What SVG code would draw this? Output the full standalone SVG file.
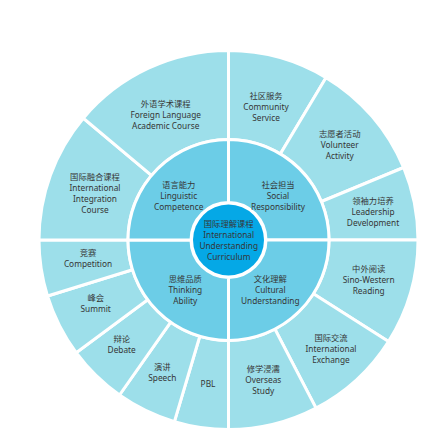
<svg xmlns="http://www.w3.org/2000/svg" width="447" height="435" viewBox="0 0 447 435">
<style>
.o{fill:#9ddfea;stroke:#fff;stroke-width:3;stroke-linejoin:miter}
.m{fill:#6ccde7;stroke:#fff;stroke-width:3}
.c{fill:#05a8e6}
text{font-family:"Noto Sans","Noto Sans CJK SC",sans-serif;font-size:8.3px;fill:#363636;text-anchor:middle}
</style>
<rect width="447" height="435" fill="#fff"/>
<g id="outer-ring">
<g id="community"><path class="o" d="M228.5,50.5 A189.5,189.5 0 0 1 326.1,77.6 L280.3,153.9 A100.5,100.5 0 0 0 228.5,139.5 Z"/><text x="266" y="99.3">社区服务<tspan x="266" dy="11">Community</tspan><tspan x="266" dy="11">Service</tspan></text></g>
<g id="volunteer"><path class="o" d="M326.1,77.6 A189.5,189.5 0 0 1 403.6,167.5 L321.4,201.5 A100.5,100.5 0 0 0 280.3,153.9 Z"/><text x="339.7" y="136.7">志愿者活动<tspan x="339.7" dy="11">Volunteer</tspan><tspan x="339.7" dy="11">Activity</tspan></text></g>
<g id="leadership"><path class="o" d="M403.6,167.5 A189.5,189.5 0 0 1 418,240 L329,240 A100.5,100.5 0 0 0 321.4,201.5 Z"/><text x="373" y="204.3">领袖力培养<tspan x="373" dy="11">Leadership</tspan><tspan x="373" dy="11">Development</tspan></text></g>
<g id="sino-western"><path class="o" d="M418,240 A189.5,189.5 0 0 1 388.5,341.5 L313.4,293.8 A100.5,100.5 0 0 0 329,240 Z"/><text x="368.7" y="271.7">中外阅读<tspan x="368.7" dy="11">Sino-Western</tspan><tspan x="368.7" dy="11">Reading</tspan></text></g>
<g id="exchange"><path class="o" d="M388.5,341.5 A189.5,189.5 0 0 1 316,408.1 L274.9,329.1 A100.5,100.5 0 0 0 313.4,293.8 Z"/><text x="331" y="341">国际交流<tspan x="331" dy="11">International</tspan><tspan x="331" dy="11">Exchange</tspan></text></g>
<g id="overseas"><path class="o" d="M316,408.1 A189.5,189.5 0 0 1 228.5,429.5 L228.5,340.5 A100.5,100.5 0 0 0 274.9,329.1 Z"/><text x="263.3" y="372.3">修学浸濡<tspan x="263.3" dy="11">Overseas</tspan><tspan x="263.3" dy="11">Study</tspan></text></g>
<g id="pbl"><path class="o" d="M228.5,429.5 A189.5,189.5 0 0 1 174.4,421.6 L199.8,336.3 A100.5,100.5 0 0 0 228.5,340.5 Z"/><text x="208" y="387">PBL</text></g>
<g id="speech"><path class="o" d="M174.4,421.6 A189.5,189.5 0 0 1 119.5,395 L170.7,322.2 A100.5,100.5 0 0 0 199.8,336.3 Z"/><text x="162.3" y="369.7">演讲<tspan x="162.3" dy="11">Speech</tspan></text></g>
<g id="debate"><path class="o" d="M119.5,395 A189.5,189.5 0 0 1 76.2,352.7 L147.7,299.8 A100.5,100.5 0 0 0 170.7,322.2 Z"/><text x="121.7" y="342.3">辩论<tspan x="121.7" dy="11">Debate</tspan></text></g>
<g id="summit"><path class="o" d="M76.2,352.7 A189.5,189.5 0 0 1 47.5,296 L132.5,269.7 A100.5,100.5 0 0 0 147.7,299.8 Z"/><text x="95.7" y="300.7">峰会<tspan x="95.7" dy="11">Summit</tspan></text></g>
<g id="competition"><path class="o" d="M47.5,296 A189.5,189.5 0 0 1 39,240 L128,240 A100.5,100.5 0 0 0 132.5,269.7 Z"/><text x="88" y="256.3">竞赛<tspan x="88" dy="11">Competition</tspan></text></g>
<g id="integration"><path class="o" d="M39,240 A189.5,189.5 0 0 1 83.3,118.2 L151.5,175.4 A100.5,100.5 0 0 0 128,240 Z"/><text x="95" y="179.7">国际融合课程<tspan x="95" dy="11">International</tspan><tspan x="95" dy="11">Integration</tspan><tspan x="95" dy="11">Course</tspan></text></g>
<g id="foreign-language"><path class="o" d="M83.3,118.2 A189.5,189.5 0 0 1 228.5,50.5 L228.5,139.5 A100.5,100.5 0 0 0 151.5,175.4 Z"/><text x="165.7" y="106.7">外语学术课程<tspan x="165.7" dy="11">Foreign Language</tspan><tspan x="165.7" dy="11">Academic Course</tspan></text></g>
</g>
<g id="middle-ring">
<g id="social"><path class="m" d="M228.5,139.5 A100.5,100.5 0 0 1 329,240 L266,240 A37.5,37.5 0 0 0 228.5,202.5 Z"/><text x="278" y="187.7">社会担当<tspan x="278" dy="11">Social</tspan><tspan x="278" dy="11">Responsibility</tspan></text></g>
<g id="cultural"><path class="m" d="M329,240 A100.5,100.5 0 0 1 228.5,340.5 L228.5,277.5 A37.5,37.5 0 0 0 266,240 Z"/><text x="270.3" y="281.7">文化理解<tspan x="270.3" dy="11">Cultural</tspan><tspan x="270.3" dy="11">Understanding</tspan></text></g>
<g id="thinking"><path class="m" d="M228.5,340.5 A100.5,100.5 0 0 1 128,240 L191,240 A37.5,37.5 0 0 0 228.5,277.5 Z"/><text x="185.3" y="281.7">思维品质<tspan x="185.3" dy="11">Thinking</tspan><tspan x="185.3" dy="11">Ability</tspan></text></g>
<g id="linguistic"><path class="m" d="M128,240 A100.5,100.5 0 0 1 228.5,139.5 L228.5,202.5 A37.5,37.5 0 0 0 191,240 Z"/><text x="178.7" y="187.7">语言能力<tspan x="178.7" dy="11">Linguistic</tspan><tspan x="178.7" dy="11">Competence</tspan></text></g>
</g>
<g id="center">
<circle class="c" cx="228.5" cy="240" r="35.5"/>
<text x="228.7" y="227.3">国际理解课程<tspan x="228.7" dy="10.8">International</tspan><tspan x="228.7" dy="10.8">Understanding</tspan><tspan x="228.7" dy="10.8">Curriculum</tspan></text>
</g>
</svg>
